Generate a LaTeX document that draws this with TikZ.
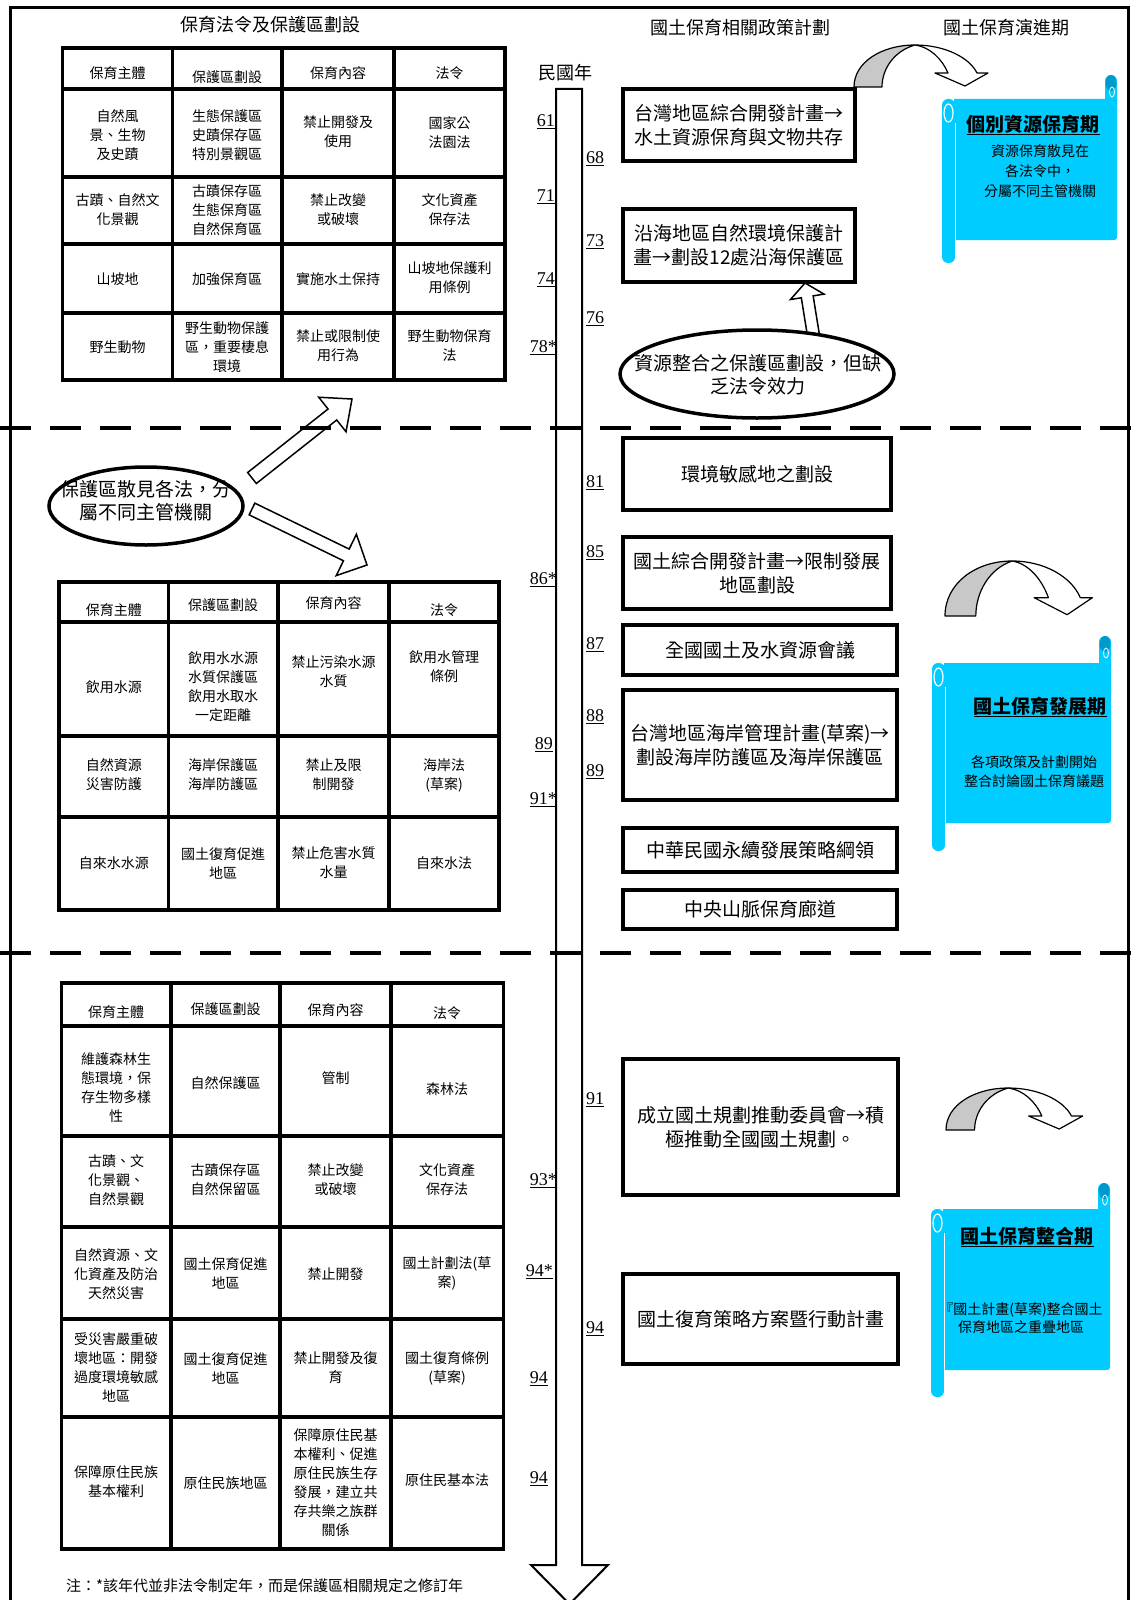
\documentclass[tikz,border=0pt]{standalone}
\usepackage{fontspec}
\setmainfont{Liberation Serif}
\newfontfamily\cjk{Noto Sans CJK TC}
\usetikzlibrary{shapes.geometric,calc}
\definecolor{scrollc}{HTML}{00CCFF}
\definecolor{curlc}{HTML}{0099CC}
\definecolor{grayband}{HTML}{C8C8C8}
\tikzset{
 cell/.style={align=center, inner sep=0pt, font=\cjk\fontsize{14}{19}\selectfont},
 box/.style={draw, line width=3.5pt, fill=white, align=center, inner sep=0pt, font=\cjk\fontsize{19}{24}\selectfont},
 tline/.style={line width=3.5pt},
 yrL/.style={anchor=east, inner sep=0pt, font=\fontsize{18}{20}\selectfont},
 yrR/.style={anchor=west, inner sep=0pt, font=\fontsize{18}{20}\selectfont},
 ttl/.style={inner sep=0pt, font=\cjk\fontsize{18}{22}\selectfont},
 oval/.style={ellipse, draw, line width=3.5pt, fill=white, inner sep=0pt},
 ovaltext/.style={align=center, inner sep=0pt, font=\cjk\fontsize{19}{23}\selectfont},
 barrow/.style={draw, line width=1.5pt, fill=white, line join=miter},
 dashline/.style={line width=4pt, dash pattern=on 31pt off 19pt},
 scrtitle/.style={inner sep=0pt, font=\cjk\bfseries\fontsize{19}{22}\selectfont},
 scrtext/.style={align=center, inner sep=0pt, font=\cjk\fontsize{14}{20}\selectfont},
 cband/.style={line width=1.2pt, line join=round},
}
\newcommand\blockarrow[5]{%
 \coordinate (hb) at ($(#2)!#5!(#1)$);
 \draw[barrow] ($(#1)!#3!-90:(#2)$) -- ($(hb)!#3!-90:(#2)$) -- ($(hb)!#4!-90:(#2)$) -- (#2)
   -- ($(hb)!#4!90:(#2)$) -- ($(hb)!#3!90:(#2)$) -- ($(#1)!#3!90:(#2)$) -- cycle;}
\newcommand\curvedarrow{%
 \filldraw[cband, fill=grayband] (0,0) .. controls (0,-25) and (28,-42) .. (61,-42)
   .. controls (40,-36) and (28,-18) .. (28,0) -- cycle;
 \filldraw[cband, fill=white] (61,-42) .. controls (90,-42) and (115,-30) .. (123,-14)
   -- (134,-14) -- (111,-1) -- (81,-14) -- (94,-14) .. controls (88,-28) and (76,-40) .. (61,-42) -- cycle;}
\newcommand\scrollshape[6]{%
 \fill[scrollc, rounded corners=6pt] (#1,#2) rectangle (#1+13,#6);
 \fill[scrollc] (#1+12,#2) -- (#3,#2) -- (#3,#4-6) .. controls (#3,#4) .. (#3-6,#4) -- (#1+12,#4) -- cycle;
 \fill[scrollc, rounded corners=6pt] (#3-12,#5) rectangle (#3,#2+12);
 \fill[curlc] (#3-6,#5+8) ellipse [x radius=5.5, y radius=8];
 \draw[white, line width=0.8pt] (#3-5,#5+17) ellipse [x radius=2.5, y radius=5];
 \draw[white, line width=1.2pt] (#1+6.5,#2+14) ellipse [x radius=4.5, y radius=9];
 \draw[white, line width=1pt] (#1+13,#2+24) -- (#1+13,#6-6);}
\begin{document}
\begin{tikzpicture}[x=1pt,y=-1pt]
\useasboundingbox (0,0) rectangle (1136,1600);
\fill[white] (0,0) rectangle (1136,1600);
% frame
\draw[line width=3pt] (10.7,1605) -- (10.7,7.3) -- (1128,7.3) -- (1128,1605);
% titles
\node[ttl] (T1) at (270,25) {保育法令及保護區劃設};
\node[ttl] (T2) at (740,28) {國土保育相關政策計劃};
\node[ttl] (T3) at (1006,28) {國土保育演進期};
\node[ttl] (T4) at (565,73) {民國年};
% ---------- table 1
\draw[tline] (62.5,48) rectangle (505,380);
\foreach \x in {172.5,282,394} \draw[tline] (\x,48) -- (\x,380);
\foreach \y in {89,177,244,313} \draw[tline] (62.5,\y) -- (505,\y);
\node[cell] (t1h1) at (117.5,73) {保育主體};
\node[cell] (t1h2) at (227,77) {保護區劃設};
\node[cell] (t1h3) at (338,73) {保育內容};
\node[cell] (t1h4) at (449.5,73) {法令};
\node[cell] (t1a1) at (117.5,135) {自然風\\景、生物\\及史蹟};
\node[cell] (t1a2) at (227,135) {生態保護區\\史蹟保存區\\特別景觀區};
\node[cell] (t1a3) at (338,132) {禁止開發及\\使用};
\node[cell] (t1a4) at (449.5,133) {國家公\\法園法};
\node[cell] (t1b1) at (117.5,210) {古蹟、自然文\\化景觀};
\node[cell] (t1b2) at (227,210) {古蹟保存區\\生態保育區\\自然保育區};
\node[cell] (t1b3) at (338,210) {禁止改變\\或破壞};
\node[cell] (t1b4) at (449.5,210) {文化資產\\保存法};
\node[cell] (t1c1) at (117.5,279) {山坡地};
\node[cell] (t1c2) at (227,279) {加強保育區};
\node[cell] (t1c3) at (338,279) {實施水土保持};
\node[cell] (t1c4) at (449.5,278) {山坡地保護利\\用條例};
\node[cell] (t1d1) at (117.5,347) {野生動物};
\node[cell] (t1d2) at (227,347) {野生動物保護\\區，重要棲息\\環境};
\node[cell] (t1d3) at (338,346) {禁止或限制使\\用行為};
\node[cell] (t1d4) at (449.5,346) {野生動物保育\\法};
% ---------- table 2
\draw[tline] (59,582) rectangle (499,910);
\foreach \x in {168.5,278,389} \draw[tline] (\x,582) -- (\x,910);
\foreach \y in {622,736,817} \draw[tline] (59,\y) -- (499,\y);
\node[cell] (t2h1) at (113.75,610) {保育主體};
\node[cell] (t2h2) at (223,605) {保護區劃設};
\node[cell] (t2h3) at (333.5,603) {保育內容};
\node[cell] (t2h4) at (444,610) {法令};
\node[cell] (t2a1) at (113.75,687) {飲用水源};
\node[cell] (t2a2) at (223,687) {飲用水水源\\水質保護區\\飲用水取水\\一定距離};
\node[cell] (t2a3) at (333.5,672) {禁止污染水源\\水質};
\node[cell] (t2a4) at (444,667) {飲用水管理\\條例};
\node[cell] (t2b1) at (113.75,775) {自然資源\\災害防護};
\node[cell] (t2b2) at (223,775) {海岸保護區\\海岸防護區};
\node[cell] (t2b3) at (333.5,775) {禁止及限\\制開發};
\node[cell] (t2b4) at (444,775) {海岸法\\(草案)};
\node[cell] (t2c1) at (113.75,863) {自來水水源};
\node[cell] (t2c2) at (223,863) {國土復育促進\\地區};
\node[cell] (t2c3) at (333.5,863) {禁止危害水質\\水量};
\node[cell] (t2c4) at (444,863) {自來水法};
% ---------- table 3
\draw[tline] (61.5,983) rectangle (503.5,1549);
\foreach \x in {171,280,391} \draw[tline] (\x,983) -- (\x,1549);
\foreach \y in {1026,1136,1227,1319,1417} \draw[tline] (61.5,\y) -- (503.5,\y);
\node[cell] (t3h1) at (116,1012) {保育主體};
\node[cell] (t3h2) at (225.5,1009) {保護區劃設};
\node[cell] (t3h3) at (335.5,1010) {保育內容};
\node[cell] (t3h4) at (447,1013) {法令};
\node[cell] (t3a1) at (116,1088) {維護森林生\\態環境，保\\存生物多樣\\性};
\node[cell] (t3a2) at (225.5,1083) {自然保護區};
\node[cell] (t3a3) at (335.5,1078) {管制};
\node[cell] (t3a4) at (447,1089) {森林法};
\node[cell] (t3b1) at (116,1180) {古蹟、文\\化景觀、\\自然景觀};
\node[cell] (t3b2) at (225.5,1180) {古蹟保存區\\自然保留區};
\node[cell] (t3b3) at (335.5,1180) {禁止改變\\或破壞};
\node[cell] (t3b4) at (447,1180) {文化資產\\保存法};
\node[cell] (t3c1) at (116,1274) {自然資源、文\\化資產及防治\\天然災害};
\node[cell] (t3c2) at (225.5,1273) {國土保育促進\\地區};
\node[cell] (t3c3) at (335.5,1274) {禁止開發};
\node[cell] (t3c4) at (447,1273) {國土計劃法(草\\案)};
\node[cell] (t3d1) at (116,1367) {受災害嚴重破\\壞地區：開發\\過度環境敏感\\地區};
\node[cell] (t3d2) at (225.5,1368) {國土復育促進\\地區};
\node[cell] (t3d3) at (335.5,1368) {禁止開發及復\\育};
\node[cell] (t3d4) at (447,1368) {國土復育條例\\(草案)};
\node[cell] (t3e1) at (116,1482) {保障原住民族\\基本權利};
\node[cell] (t3e2) at (225.5,1483) {原住民族地區};
\node[cell] (t3e3) at (335.5,1483) {保障原住民基\\本權利、促進\\原住民族生存\\發展，建立共\\存共樂之族群\\關係};
\node[cell] (t3e4) at (447,1480) {原住民基本法};
% footnote
\node[anchor=west, inner sep=0pt, font=\cjk\fontsize{15}{18}\selectfont] (fn) at (66,1586) {注：*該年代並非法令制定年，而是保護區相關規定之修訂年};
% ---------- timeline
\draw[line width=2pt, fill=white] (556,89) -- (582,89) -- (582,1565) -- (608,1565) -- (569.5,1604) -- (531,1565) -- (556,1565) -- cycle;
% ---------- policy boxes
\node[box, minimum width=232pt, minimum height=72pt] (A) at (739,125) {台灣地區綜合開發計畫→\\水土資源保育與文物共存};
\node[box, minimum width=232pt, minimum height=73pt] (B) at (739,245.5) {沿海地區自然環境保護計\\畫→劃設12處沿海保護區};
\node[box, minimum width=268pt, minimum height=72pt] (C) at (757,474) {環境敏感地之劃設};
\node[box, minimum width=268pt, minimum height=72pt] (D) at (757,573) {國土綜合開發計畫→限制發展\\地區劃設};
\node[box, minimum width=274pt, minimum height=50pt] (E) at (760,650) {全國國土及水資源會議};
\node[box, minimum width=274pt, minimum height=110pt] (F) at (760,745) {台灣地區海岸管理計畫(草案)→\\劃設海岸防護區及海岸保護區};
\node[box, minimum width=274pt, minimum height=44pt] (G) at (760,850) {中華民國永續發展策略綱領};
\node[box, minimum width=274pt, minimum height=39pt] (H) at (760,909.5) {中央山脈保育廊道};
\node[box, minimum width=275pt, minimum height=136pt] (I) at (760.5,1127) {成立國土規劃推動委員會→積\\極推動全國國土規劃。};
\node[box, minimum width=275pt, minimum height=90pt] (J) at (760.5,1319) {國土復育策略方案暨行動計畫};
% ---------- block arrows
\coordinate (a3s) at (815,345); \coordinate (a3e) at (805,283);
\blockarrow{a3s}{a3e}{6pt}{17pt}{14pt}
\coordinate (a1s) at (252,478); \coordinate (a1e) at (352,399);
\blockarrow{a1s}{a1e}{7pt}{22pt}{25pt}
\coordinate (a2s) at (252,509); \coordinate (a2e) at (367,565);
\blockarrow{a2s}{a2e}{6.5pt}{23pt}{23pt}
% ---------- ellipses
\node[oval, minimum width=274pt, minimum height=88pt] (E1) at (757,374) {};
\node[ovaltext] (E1t) at (758,375) {資源整合之保護區劃設，但缺\\乏法令效力};
\node[oval, minimum width=194pt, minimum height=78pt] (E2) at (146,506) {};
\node[ovaltext] (E2t) at (146,501) {保護區散見各法，分\\屬不同主管機關};
% ---------- curved arrows
\begin{scope}[shift={(854,87)}] \curvedarrow \end{scope}
\begin{scope}[shift={(945,616)}, xscale=1.1, yscale=1.31] \curvedarrow \end{scope}
\begin{scope}[shift={(946,1130)}, xscale=1.02] \curvedarrow \end{scope}
% ---------- scrolls
\scrollshape{942}{99}{1117}{240}{75}{263}
\node[scrtitle] (S1t) at (1033,125) {\underline{個別資源保育期}};
\node[scrtext] (S1x) at (1040,171) {資源保育散見在\\各法令中，\\分屬不同主管機關};
\scrollshape{932}{663}{1111}{823}{636}{851}
\node[scrtitle] (S2t) at (1040,707) {\underline{國土保育發展期}};
\node[scrtext, font=\cjk\fontsize{14}{19}\selectfont] (S2x) at (1034,772) {各項政策及計劃開始\\整合討論國土保育議題};
\scrollshape{931}{1209}{1110}{1370}{1183}{1397}
\node[scrtitle] (S3t) at (1027,1237) {\underline{國土保育整合期}};
\node[scrtext, font=\cjk\fontsize{14}{18}\selectfont] (S3x) at (1021,1318) {『國土計畫(草案)整合國土\\保育地區之重疊地區};
% ---------- year labels
\node[yrL] (y61) at (555,122) {\underline{61}};
\node[yrL] (y71) at (555,197) {\underline{71}};
\node[yrL] (y74) at (555,280) {\underline{74}};
\node[yrL] (y78) at (557,348) {\underline{78*}};
\node[yrL] (y86) at (557,580) {\underline{86*}};
\node[yrL] (y89l) at (553,745) {\underline{89}};
\node[yrL] (y91l) at (557,800) {\underline{91*}};
\node[yrL] (y93) at (557,1181) {\underline{93*}};
\node[yrL] (y94a) at (553,1272) {\underline{94*}};
\node[yrL] (y94b) at (548,1379) {\underline{94}};
\node[yrL] (y94c) at (548,1479) {\underline{94}};
\node[yrR] (y68) at (586,159) {\underline{68}};
\node[yrR] (y73) at (586,242) {\underline{73}};
\node[yrR] (y76) at (586,319) {\underline{76}};
\node[yrR] (y81) at (586,483) {\underline{81}};
\node[yrR] (y85) at (586,553) {\underline{85}};
\node[yrR] (y87) at (586,645) {\underline{87}};
\node[yrR] (y88) at (586,717) {\underline{88}};
\node[yrR] (y89r) at (586,772) {\underline{89}};
\node[yrR] (y91r) at (586,1100) {\underline{91}};
\node[yrR] (y94r) at (586,1329) {\underline{94}};
% ---------- dashed separators
\draw[dashline] (0,428) -- (1136,428);
\draw[dashline] (0,953) -- (1136,953);
\end{tikzpicture}
\end{document}
